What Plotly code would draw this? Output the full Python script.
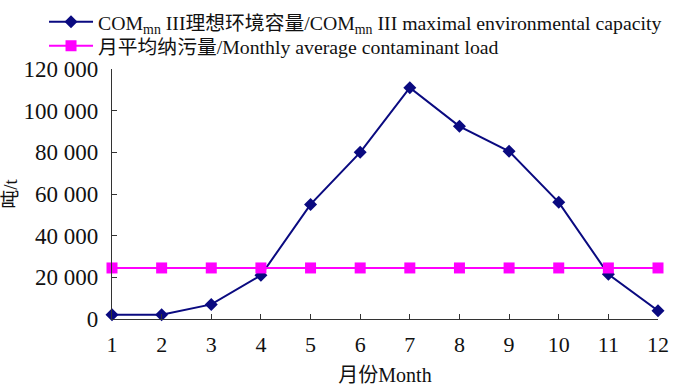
import plotly.graph_objects as go

# Monthly data (t)
months = [1, 2, 3, 4, 5, 6, 7, 8, 9, 10, 11, 12]
capacity = [2000, 2000, 7000, 21000, 55000, 80000, 111000, 92500, 80500, 56000, 21500, 4000]
load = [24500] * 12

y_ticks = [0, 20000, 40000, 60000, 80000, 100000, 120000]
y_tick_text = ["0", "20 000", "40 000", "60 000", "80 000", "100 000", "120 000"]

serif = "Liberation Serif, Noto Sans CJK SC, serif"

fig = go.Figure()
fig.add_trace(go.Scatter(
    x=months, y=capacity, mode="lines+markers",
    name="COM<sub>mn</sub> III理想环境容量/COM<sub>mn</sub> III maximal environmental capacity",
    line=dict(color="#0A0A80", width=2),
    marker=dict(symbol="diamond", size=10, color="#0A0A80"),
    cliponaxis=False, legend="legend",
))
fig.add_trace(go.Scatter(
    x=months, y=load, mode="lines+markers",
    name="月平均纳污量/Monthly average contaminant load",
    line=dict(color="#FF00FF", width=2),
    marker=dict(symbol="square", size=11, color="#FF00FF"),
    cliponaxis=False, legend="legend2",
))

# one single-row legend per series, stacked above the plot
legend_style = dict(
    xanchor="left", yanchor="middle",
    bgcolor="rgba(0,0,0,0)", borderwidth=0,
    font=dict(family=serif, size=19.8, color="#111111"),
    itemwidth=44,
)

fig.update_layout(
    width=674, height=387,
    margin=dict(l=112, r=16, t=69, b=68, autoexpand=False),
    paper_bgcolor="white", plot_bgcolor="white",
    font=dict(family=serif, size=22, color="#111111"),
    showlegend=True,
    legend=dict(x=-0.1245, y=1.188, **legend_style),
    legend2=dict(x=-0.1245, y=1.092, **legend_style),
    xaxis=dict(
        range=[1, 12], tickvals=months, ticktext=[str(m) for m in months],
        showline=True, linecolor="#333333", linewidth=1.2,
        ticks="inside", ticklen=5, tickcolor="#333333",
        showgrid=False, zeroline=False, automargin=False,
        ticklabelstandoff=5,
        title=dict(text="月份Month", standoff=12, font=dict(size=20)),
    ),
    yaxis=dict(
        range=[0, 120000], tickvals=y_ticks, ticktext=y_tick_text,
        tickfont=dict(size=23),
        showline=True, linecolor="#333333", linewidth=1.2,
        ticks="inside", ticklen=5, tickcolor="#333333",
        showgrid=False, zeroline=False, automargin=False,
        ticklabelstandoff=8,
        title=dict(text="吨/t", standoff=0, font=dict(size=19)),
    ),
)

fig.write_html("out.html")
